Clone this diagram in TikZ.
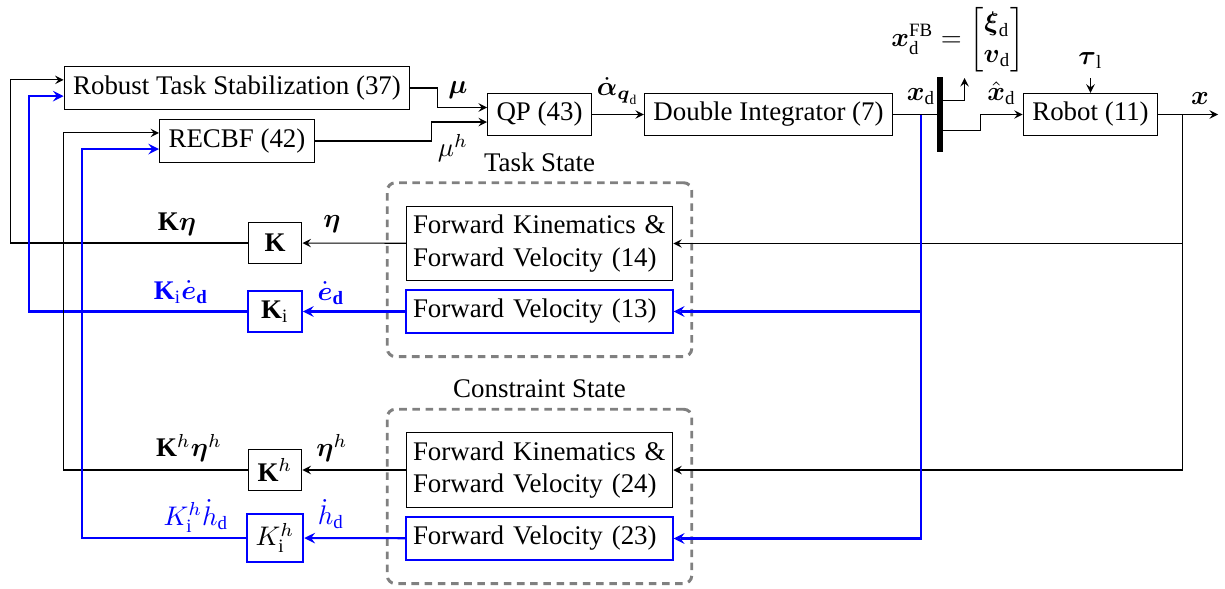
\documentclass[tikz,border=0pt]{standalone}
\usepackage{amsmath}
\usepackage{fontspec}
\setmainfont{Liberation Serif}
\usetikzlibrary{fit}
\tikzset{
	blockbox/.style={draw,minimum height=15.2pt,minimum width=20pt,inner sep=3.33pt},
	iblockbox/.style={blockbox,draw=blue,line width=0.75pt},
	fkbox/.style={draw,text width=94pt,align=left,minimum height=27.1pt,inner xsep=2.5pt,inner ysep=3.33pt},
	fvbox/.style={fkbox,minimum height=15.2pt,draw=blue,line width=0.75pt},
	statebox/.style={draw=gray,line width=1.1pt,dash pattern=on 2.8pt off 2.1pt,rounded corners=3pt,inner xsep=6.7pt,inner ysep=8.5pt},
	bwire/.style={blue,line width=0.75pt},
}
\begin{document}
\begin{tikzpicture}[x=1.306cm,y=1.306cm,>=stealth]
	\useasboundingbox (0,0) rectangle (12.25,-5.89);
	%blocks
	\node[blockbox] (rts) at (2.37,-0.88) {Robust Task Stabilization (37)};
	\node[blockbox] (recbf) at (2.37,-1.41) {RECBF (42)};
	\node[blockbox] (qp) at (5.395,-1.145) {QP (43)};
	\node[blockbox] (dint) at (7.685,-1.145) {Double Integrator (7)};
	\node[fill=black,inner sep=0pt,minimum width=2pt,minimum height=27.8pt] (bar) at (9.40,-1.145) {};
	\node[blockbox,minimum width=50pt] (robot) at (10.905,-1.145) {Robot (11)};

	%task state
	\node[fkbox] (fk1) at (5.395,-2.435) {Forward Kinematics \&\\Forward Velocity (14)};
	\node[fvbox] (fv1) at (5.395,-3.115) {Forward Velocity (13)};
	\node[statebox,fit=(fk1)(fv1),label=above:{Task State}] (taskstate) {};
	\node[blockbox] (k1) at (2.75,-2.43) {$\mathbf{K}$};
	\node[iblockbox] (ki1) at (2.75,-3.115) {$\mathbf{K}_\mathrm{i}$};

	%constraint state
	\node[fkbox] (fk2) at (5.395,-4.70) {Forward Kinematics \&\\Forward Velocity (24)};
	\node[fvbox] (fv2) at (5.395,-5.385) {Forward Velocity (23)};
	\node[statebox,fit=(fk2)(fv2),label=above:{Constraint State}] (constrstate) {};
	\node[blockbox] (k2) at (2.75,-4.70) {$\mathbf{K}^h$};
	\node[iblockbox] (ki2) at (2.75,-5.38) {$K_\mathrm{i}^h$};

	%free ends
	\coordinate (xdtap) at (9.21,-1.145);
	\coordinate (fbout) at (9.645,-0.78);
	\coordinate (tauin) at (10.905,-0.78);
	\coordinate (xtap) at (11.825,-1.145);
	\coordinate (xout) at (12.18,-1.145);

	%forward path
	\draw[->] (rts.east) -- ++(0.27,0) |- ([yshift=2.6pt]qp.west);
	\draw[->] (recbf.east) -- ++(1.17,0) |- ([yshift=-2.8pt]qp.west);
	\draw[->] (qp) -- node[above] (alab) {$\dot{\boldsymbol{\alpha}}_{\boldsymbol{q}_\mathrm{d}}$} (dint);
	\draw (dint) -- (bar);
	\draw[->] ([yshift=5.2pt]bar.east) -| (fbout);
	\draw[->] ([yshift=-5.94pt]bar.east) -- ++(0.375,0) |- node[pos=0.75,above] (xhatlab) {$\hat{\boldsymbol{x}}_\mathrm{d}$} (robot.west);
	\draw[->] (tauin) -- (robot);
	\draw[->] (robot) -- node[pos=0.7,above] (xlab) {$\boldsymbol{x}$} (xout);

	%feedback
	\draw[->] (xtap) |- (fk2.east);
	\draw[->] (xtap |- fk1.east) -- (fk1.east);
	\draw[bwire,->] (xdtap) |- (fv2.east);
	\draw[bwire,->] (xdtap |- fv1.east) -- (fv1.east);
	\draw[->] (fk1) -- (k1);
	\draw[bwire,->] (fv1) -- (ki1);
	\draw[->] (fk2) -- (k2);
	\draw[bwire,->] (fv2) -- (ki2);
	\draw[->] (k1) -- (0.105,-2.43) |- ([yshift=3pt]rts.west);
	\draw[bwire,->] (ki1) -- (0.29,-3.115) |- ([yshift=-3pt]rts.west);
	\draw[->] (k2) -- (0.635,-4.70) |- ([yshift=3pt]recbf.west);
	\draw[bwire,->] (ki2) -- (0.82,-5.38) |- ([yshift=-3pt]recbf.west);

	%labels
	\node (mulab) at (4.58,-0.90) {$\boldsymbol{\mu}$};
	\node (muhlab) at (4.53,-1.48) {$\mu^h$};
	\node[above] (xdlab) at (xdtap) {$\boldsymbol{x}_\mathrm{d}$};
	\node[inner sep=0pt] (fblab) at (9.58,-0.40) {$\boldsymbol{x}_\mathrm{d}^\mathrm{FB} = \begin{bmatrix}\boldsymbol{\xi}_\mathrm{d}\\ \boldsymbol{v}_\mathrm{d}\end{bmatrix}$};
	\node[above=0pt] (taulab) at (tauin) {$\boldsymbol{\tau}_\mathrm{l}$};
	\node (kelab) at (1.77,-2.24) {$\mathbf{K}\boldsymbol{\eta}$};
	\node (etalab) at (3.32,-2.24) {$\boldsymbol{\eta}$};
	\node[text=blue] (kielab) at (1.81,-2.92) {$\mathbf{K}_\mathrm{i}\dot{\boldsymbol{e}}_\mathbf{d}$};
	\node[text=blue] (edlab) at (3.31,-2.93) {$\dot{\boldsymbol{e}}_\mathbf{d}$};
	\node (khlab) at (1.89,-4.48) {$\mathbf{K}^h\boldsymbol{\eta}^h$};
	\node (etahlab) at (3.32,-4.48) {$\boldsymbol{\eta}^h$};
	\node[text=blue] (kihlab) at (1.96,-5.16) {$K_\mathrm{i}^h\dot{h}_\mathrm{d}$};
	\node[text=blue] (hdlab) at (3.31,-5.14) {$\dot{h}_\mathrm{d}$};
\end{tikzpicture}
\end{document}
